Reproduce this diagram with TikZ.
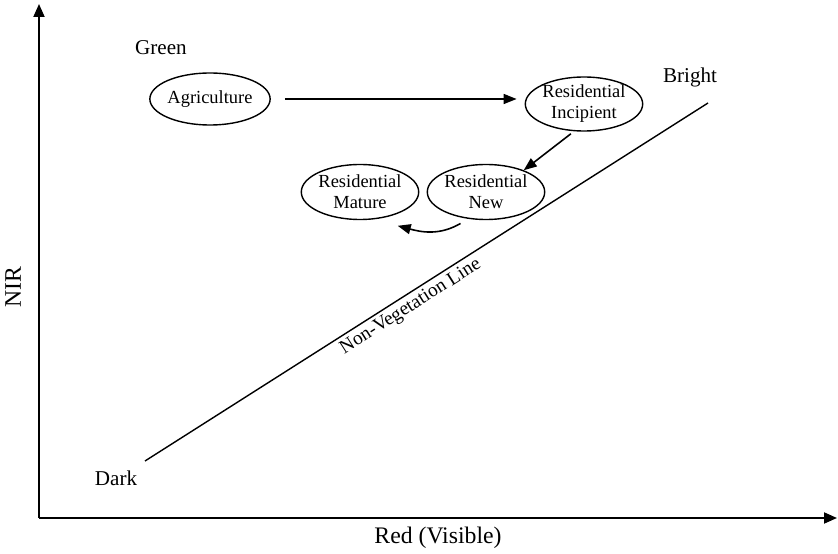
\documentclass[tikz,border=0pt]{standalone}
\usepackage{fontspec}
\setmainfont{Liberation Serif}
\usetikzlibrary{arrows.meta,shapes.geometric}
\begin{document}
\begin{tikzpicture}[
  class/.style={draw, ellipse, line width=0.8pt, inner sep=0pt, align=center, minimum width=2.32cm, minimum height=1.08cm, font=\fontsize{10.5}{12}\selectfont},
  tag/.style={font=\fontsize{12}{14}\selectfont},
  axlabel/.style={font=\fontsize{13.5}{16}\selectfont},
  axis/.style={line width=1.1pt, -{Triangle[length=0.26cm,width=0.22cm]}},
  arr/.style={line width=0.9pt, -{Triangle[length=0.26cm,width=0.2cm]}}
]
\useasboundingbox (0,0) rectangle (16.76,11.08);
\coordinate (o) at (0.78,0.72);
\coordinate (ytop) at (0.78,11.0);
\coordinate (xend) at (16.74,0.72);
\draw[axis] (o) -- (ytop);
\draw[axis] (o) -- (xend);
\node[axlabel, rotate=90] (nir) at (0.26,5.34) {NIR};
\node[axlabel] (red) at (8.76,0.32) {Red (Visible)};
\node[tag] (green) at (3.22,10.12) {Green};
\node[tag] (bright) at (13.80,9.54) {Bright};
\node[tag] (dark) at (2.32,1.52) {Dark};
\coordinate (dk) at (2.90,1.86);
\coordinate (br) at (14.16,9.02);
\draw[line width=0.8pt] (dk) -- node[sloped, below, pos=0.46, inner sep=2pt, font=\fontsize{11}{13}\selectfont] (nvl) {Non-Vegetation Line} (br);
\node[class, minimum height=1.04cm] (agri) at (4.20,9.10) {Agriculture};
\node[class] (inc) at (11.68,9.00) {Residential\\Incipient};
\node[class, minimum height=1.10cm] (mat) at (7.20,7.24) {Residential\\Mature};
\node[class, minimum height=1.10cm] (new) at (9.72,7.24) {Residential\\New};
\draw[arr, shorten <=0.28cm, shorten >=0.16cm] (agri.east) -- (agri.east -| inc.west);
\draw[arr, shorten <=0.08cm] (inc.250) -- (new.30);
\draw[arr] ([yshift=-0.12cm]new.225) to[out=-150, in=-15] ([yshift=-0.24cm]mat.330);
\end{tikzpicture}
\end{document}
